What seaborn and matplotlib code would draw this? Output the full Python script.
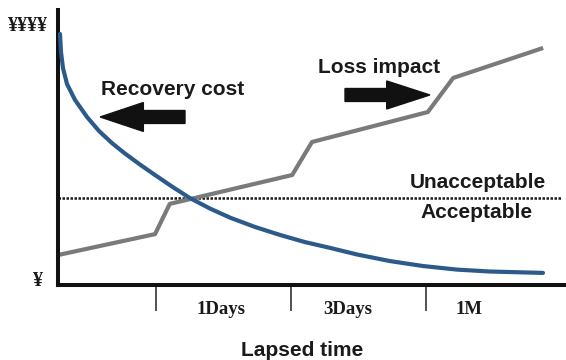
import matplotlib
matplotlib.use("Agg")
import matplotlib.pyplot as plt
from matplotlib.patches import FancyArrow
import pandas as pd
import seaborn as sns

# Recovery cost curve (relative cost vs. lapsed time)
recovery_x = [0.39, 0.59, 0.98, 1.77, 3.35, 5.71, 8.07, 10.63, 13.19, 16.14,
              19.09, 22.44, 25.98, 29.92, 33.86, 38.78, 43.70, 48.62, 53.54,
              58.86, 65.35, 71.85, 78.54, 85.04, 95.47]
recovery_y = [91.3, 84.7, 78.9, 73.1, 67.3, 61.1, 56.0, 51.6, 47.8, 43.8,
              40.0, 35.8, 31.6, 27.8, 24.5, 21.1, 18.2, 15.6, 13.5,
              11.1, 8.7, 6.9, 5.6, 4.9, 4.4]

# Loss impact (step-like growth around each time milestone)
loss_x = [0.0, 19.1, 22.0, 46.1, 50.0, 72.8, 77.8, 95.5]
loss_y = [10.9, 18.5, 29.5, 40.0, 52.0, 62.9, 75.3, 86.2]

# Acceptability threshold
threshold = 31.6

# Time milestones on the x axis
tick_x = [19.3, 45.9, 72.4]
tick_labels = ["1Days", "3Days", "1M"]
tick_label_x = [32.1, 57.1, 80.9]

y_top_label = "¥¥¥¥"
y_bottom_label = "¥"

sns.set_theme(style="white")
plt.rcParams["font.family"] = ["Liberation Sans", "DejaVu Sans"]

fig = plt.figure(figsize=(5.66, 3.6), dpi=100)
ax = fig.add_axes([58 / 566, 1 - 285 / 360, 1 - 58 / 566, 275 / 360])
ax.set_xlim(0, 100)
ax.set_ylim(0, 100)

blue = "#2c5b8a"
gray = "#7a7a7a"

rec = pd.DataFrame({"x": recovery_x, "y": recovery_y})
loss = pd.DataFrame({"x": loss_x, "y": loss_y})
sns.lineplot(data=rec, x="x", y="y", ax=ax, color=blue, linewidth=3.0,
             estimator=None, solid_capstyle="round", solid_joinstyle="round",
             zorder=3)
sns.lineplot(data=loss, x="x", y="y", ax=ax, color=gray, linewidth=3.0,
             estimator=None, solid_capstyle="butt", zorder=2)

# Threshold line
ax.hlines(threshold, 0, 99.2, colors="#1a1a1a", linewidth=1.8,
          linestyles=(0, (1, 0.6)), zorder=1)

# Direction arrows
ax.add_patch(FancyArrow(25.0, 61.1, -16.7, 0, width=4.7, head_width=10.5,
                        head_length=8.5, length_includes_head=True,
                        color="#111111", zorder=4))
ax.add_patch(FancyArrow(56.5, 69.1, 16.7, 0, width=4.7, head_width=10.2,
                        head_length=8.5, length_includes_head=True,
                        color="#111111", zorder=4))

txt_kw = dict(fontsize=15, fontweight="bold", color="#1a1a1a",
              ha="center", va="center")
ax.text(22.6, 71.0, "Recovery cost", **txt_kw)
ax.text(63.2, 79.2, "Loss impact", **txt_kw)
ax.text(82.7, 37.4, "Unacceptable", **txt_kw)
ax.text(82.3, 26.2, "Acceptable", **txt_kw)

# Axes styling
for side in ["top", "right"]:
    ax.spines[side].set_visible(False)
for side in ["left", "bottom"]:
    ax.spines[side].set_color("#111111")
    ax.spines[side].set_linewidth(2.9)

ax.set_xticks(tick_x, labels=[""] * len(tick_x))
ax.tick_params(axis="x", direction="out", length=18.5, width=1.1,
               color="#222222", bottom=True)
ax.set_yticks([])
ax.set_xlabel("")
ax.set_ylabel("")

serif_kw = dict(fontsize=13.5, fontweight="bold", color="#1a1a1a",
                family=["Liberation Serif", "DejaVu Serif"],
                ha="center", va="center", clip_on=False)
xt = ax.get_xaxis_transform()
for xpos, lab in zip(tick_label_x, tick_labels):
    ax.text(xpos, -25 / 275, lab, transform=xt, **serif_kw)

yt = ax.get_yaxis_transform()
ax.text(-30.5 / 508, 94.2, y_top_label, transform=yt,
        **dict(serif_kw, fontsize=14.5))
ax.text(-20.5 / 508, 1.5, y_bottom_label, transform=yt,
        **dict(serif_kw, fontsize=14.5))

fig.text(302 / 566, 1 - 350 / 360, "Lapsed time", fontsize=15,
         fontweight="bold", color="#1a1a1a", ha="center", va="center")

fig.savefig("out.png", dpi=100)
